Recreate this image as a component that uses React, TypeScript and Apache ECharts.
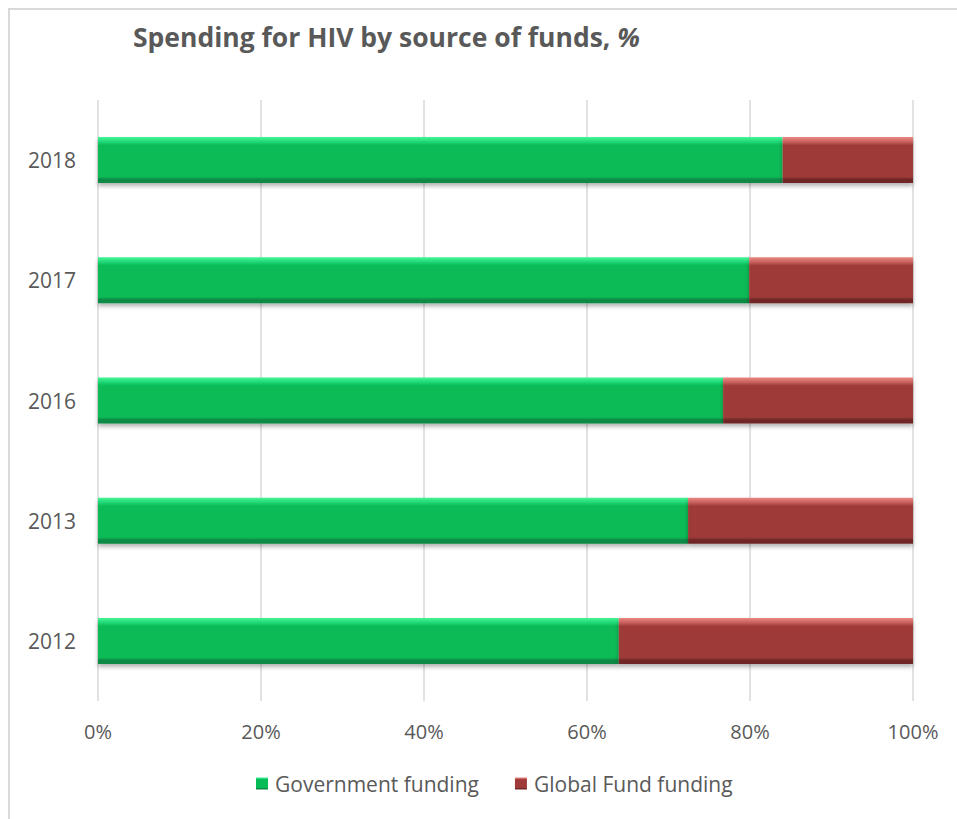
import React, { useEffect, useRef } from "react";
import * as echarts from "echarts";

const years = ["2012", "2013", "2016", "2017", "2018"];
const governmentFunding = [63.9, 72.4, 76.7, 79.9, 84.0];
const globalFundFunding = [36.1, 27.6, 23.3, 20.1, 16.0];
const seriesNames = ["Government funding", "Global Fund funding"];
const titleText = "Spending for HIV by source of funds, ";

const FONT = "Open Sans";
const TXT = "#595959";

function grad(light: string, mid: string, main: string, dark: string) {
  return new echarts.graphic.LinearGradient(0, 0, 0, 1, [
    { offset: 0, color: light },
    { offset: 0.1, color: mid },
    { offset: 0.18, color: main },
    { offset: 0.86, color: main },
    { offset: 0.92, color: dark },
    { offset: 1, color: dark },
  ]);
}

export default function App() {
  const ref = useRef<HTMLDivElement>(null);
  useEffect(() => {
    if (!ref.current) return;
    const chart = echarts.init(ref.current, null, { renderer: "svg" });
    chart.setOption({
      animation: false,
      backgroundColor: "#ffffff",
      title: {
        text: "{a|" + titleText + "}{b|%}",
        left: 128,
        top: 18,
        textStyle: {
          rich: {
            a: { fontFamily: FONT, fontSize: 26.5, fontWeight: "bold", color: TXT },
            b: { fontFamily: FONT, fontSize: 26.5, fontWeight: "bold", fontStyle: "italic", color: TXT },
          },
        },
      },
      graphic: [
        { type: "line", shape: { x1: 8, y1: 9, x2: 957, y2: 9 }, style: { stroke: "#d9d9d9", lineWidth: 2 } },
        { type: "line", shape: { x1: 9, y1: 8, x2: 9, y2: 819 }, style: { stroke: "#d9d9d9", lineWidth: 2 } },
      ],
      legend: {
        bottom: 20,
        left: 251,
        itemWidth: 12,
        itemHeight: 12,
        itemGap: 36,
        icon: "rect",
        textStyle: { fontFamily: FONT, fontSize: 21, color: TXT, padding: [0, 0, 0, 2] },
        data: seriesNames,
      },
      grid: { left: 98, right: 44, top: 100, bottom: 118, containLabel: false },
      xAxis: {
        type: "value",
        min: 0,
        max: 100,
        interval: 20,
        axisLine: { show: false },
        axisTick: { show: false },
        splitLine: { show: true, lineStyle: { color: "#d9d9d9", width: 1.5 } },
        axisLabel: {
          formatter: "{value}%",
          fontFamily: FONT,
          fontSize: 20,
          color: TXT,
          margin: 20,
        },
      },
      yAxis: {
        type: "category",
        data: years,
        axisLine: { show: false },
        axisTick: { show: false },
        axisLabel: { fontFamily: FONT, fontSize: 21, color: TXT, margin: 22 },
      },
      series: [
        {
          name: seriesNames[0],
          type: "bar",
          stack: "total",
          barWidth: 46,
          data: governmentFunding,
          itemStyle: {
            color: grad("#45f596", "#22d877", "#07bb57", "#0a8a45"),
            shadowColor: "rgba(0,0,0,0.3)",
            shadowBlur: 4,
            shadowOffsetY: 3,
          },
        },
        {
          name: seriesNames[1],
          type: "bar",
          stack: "total",
          barWidth: 46,
          data: globalFundFunding,
          itemStyle: {
            color: grad("#ec8782", "#c9625e", "#9e3b39", "#6f2826"),
            shadowColor: "rgba(0,0,0,0.3)",
            shadowBlur: 4,
            shadowOffsetY: 3,
          },
        },
      ],
    });
    return () => chart.dispose();
  }, []);
  return (
    <div
      ref={ref}
      style={{ position: "absolute", left: 0, top: 0, width: 957, height: 819 }}
    />
  );
}
